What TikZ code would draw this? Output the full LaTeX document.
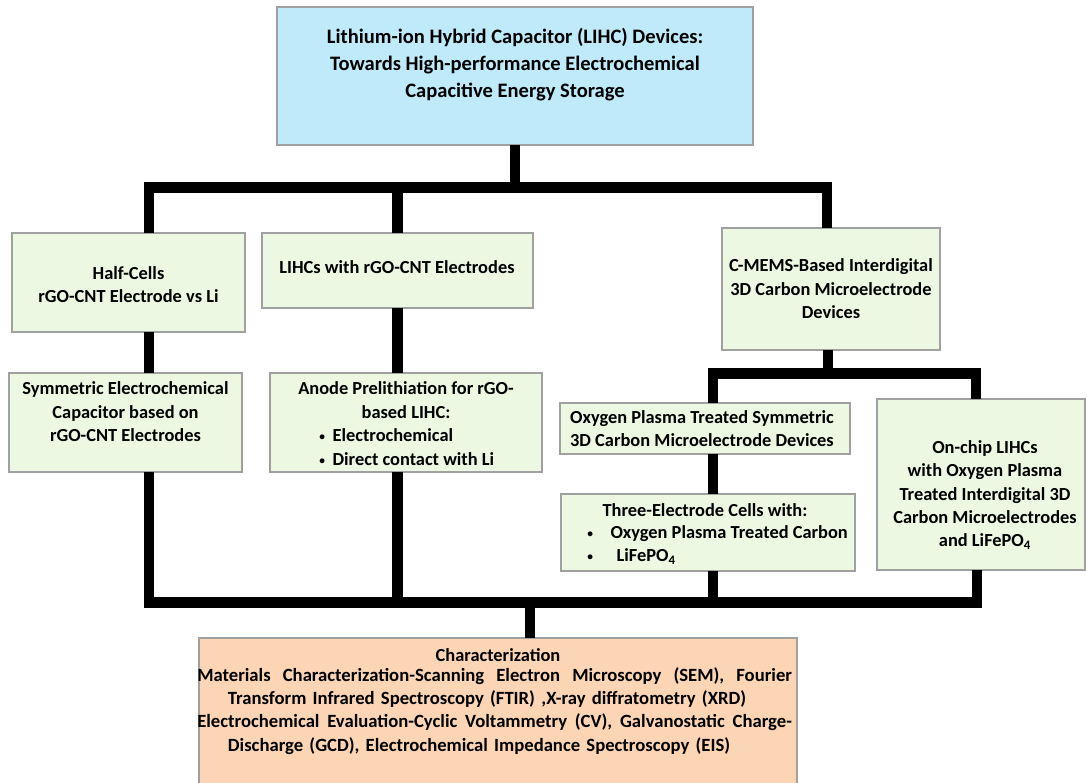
\documentclass[tikz,border=0pt]{standalone}
\usepackage{fontspec}
\setmainfont{Carlito}
\usetikzlibrary{shadows}
\definecolor{topblue}{RGB}{190,234,250}
\definecolor{boxgreen}{RGB}{236,248,226}
\definecolor{peach}{RGB}{252,213,181}
\definecolor{edgegray}{RGB}{160,160,160}
\newcommand{\smbul}{\raisebox{0.12ex}{\scalebox{0.62}{\textbullet}}}
\tikzset{
  box/.style={draw=edgegray, line width=0.9pt, inner sep=0pt, outer sep=0pt, fill=boxgreen,
    drop shadow={shadow xshift=0.8pt, shadow yshift=-0.8pt, opacity=0.35}},
  bar/.style={line width=7.9pt, line join=miter, line cap=butt, draw=black},
  txt/.style={font=\fontsize{13.8}{17.6}\selectfont\bfseries, align=center, inner sep=0pt},
  toptxt/.style={font=\fontsize{15.4}{20.25}\selectfont\bfseries, align=center, inner sep=0pt}
}
\begin{document}
\begin{tikzpicture}[x=0.75pt,y=-0.75pt]
\useasboundingbox (0,0) rectangle (1087,782);
\clip (0,0) rectangle (1087,782);
% boxes
\node[box, fill=topblue, minimum width=357pt, minimum height=103.5pt] (top) at (515,76) {};
\node[box, minimum width=174.75pt, minimum height=74.25pt] (half) at (128.5,282.5) {};
\node[box, minimum width=203.25pt, minimum height=56.25pt] (lihc) at (397.5,270.5) {};
\node[box, minimum width=174.75pt, minimum height=74.25pt] (sym) at (125.5,422.5) {};
\node[box, minimum width=204pt, minimum height=74.25pt] (anode) at (406,422.5) {};
\node[box, minimum width=163.5pt, minimum height=91.5pt] (cmems) at (831,289) {};
\node[box, minimum width=217.5pt, minimum height=38.25pt] (oxy) at (705,428.5) {};
\node[box, minimum width=220.5pt, minimum height=57.75pt] (three) at (708,532.5) {};
\node[box, minimum width=156pt, minimum height=128.25pt] (onchip) at (981,484.5) {};
\node[box, fill=peach, minimum width=448.5pt, minimum height=117.75pt] (char) at (498,716.5) {};
% texts
\node[toptxt] (toptext) at (515,65) {Lithium-ion Hybrid Capacitor (LIHC) Devices:\\Towards High-performance Electrochemical\\Capacitive Energy Storage};
\node[txt] (halftext) at (128.5,284.5) {Half-Cells\\rGO-CNT Electrode vs Li};
\node[txt] (lihctext) at (397,267) {LIHCs with rGO-CNT Electrodes};
\node[txt] (symtext) at (125.5,412) {Symmetric Electrochemical\\Capacitor based on\\rGO-CNT Electrodes};
\node[txt] (anodetext) at (406,400) {Anode Prelithiation for rGO-\\based LIHC:};
\node[txt, align=left, anchor=west] (anodelist) at (319,447) {\makebox[10pt][l]{\smbul}Electrochemical\\\makebox[10pt][l]{\smbul}Direct contact with Li};
\node[txt] (cmemstext) at (831,289) {C-MEMS-Based Interdigital\\3D Carbon Microelectrode\\Devices};
\node[txt] (oxytext) at (702,428.5) {Oxygen Plasma Treated Symmetric\\3D Carbon Microelectrode Devices};
\node[txt] (threetext) at (705,510) {Three-Electrode Cells with:};
\node[txt, align=left, anchor=west] (threelist) at (587,545) {\makebox[17.5pt][l]{\smbul}Oxygen Plasma Treated Carbon\\\makebox[22pt][l]{\smbul}LiFePO\textsubscript{4}};
\node[txt] (onchiptext) at (985,495) {On-chip LIHCs\\with Oxygen Plasma\\Treated Interdigital 3D\\Carbon Microelectrodes\\and LiFePO\textsubscript{4}};
\node[txt] (chartitle) at (498,655) {Characterization};
\node[txt, align=left, anchor=north west, text width=446pt, font=\fontsize{14}{17.5}\selectfont\bfseries] (charbody) at (197,667) {%
\leavevmode\hbox to 446pt{Materials\hfill Characterization-Scanning\hfill Electron\hfill Microscopy\hfill (SEM),\hfill Fourier}\\
\hspace*{23pt}Transform Infrared Spectroscopy (FTIR) ,X-ray diffratometry (XRD)\\
\leavevmode\hbox to 446pt{Electrochemical\hfill Evaluation-Cyclic\hfill Voltammetry\hfill (CV),\hfill Galvanostatic\hfill Charge-}\\
\hspace*{23pt}Discharge (GCD), Electrochemical Impedance Spectroscopy (EIS)};
% junctions
\coordinate (j0) at (515,187.5);
\coordinate (jL) at (149,187.5);
\coordinate (jR) at (827,187.5);
\coordinate (k0) at (828,373.5);
\coordinate (kL) at (713,373.5);
\coordinate (kR) at (976,373.5);
\coordinate (mL) at (149,602.5);
\coordinate (mR) at (977,602.5);
\coordinate (m0) at (530,602.5);
% connectors
\draw[bar] (top.south) -- (j0);
\draw[bar] (half.north -| jL) -- (jL) -- (jR) -- (cmems.north -| jR);
\draw[bar] (lihc.north) -- (lihc.north |- jL);
\draw[bar] (half.south -| jL) -- (sym.north -| jL);
\draw[bar] (lihc.south) -- (anode.north -| lihc.south);
\draw[bar] (cmems.south -| k0) -- (k0);
\draw[bar] (oxy.north -| kL) -- (kL) -- (kR) -- (onchip.north -| kR);
\draw[bar] (oxy.south -| kL) -- (three.north -| kL);
\draw[bar] (sym.south -| mL) -- (mL) -- (mR) -- (onchip.south -| mR);
\draw[bar] (anode.south -| lihc.south) -- (lihc.south |- mL);
\draw[bar] (three.south -| kL) -- (kL |- mL);
\draw[bar] (m0) -- (char.north -| m0);
\end{tikzpicture}
\end{document}
